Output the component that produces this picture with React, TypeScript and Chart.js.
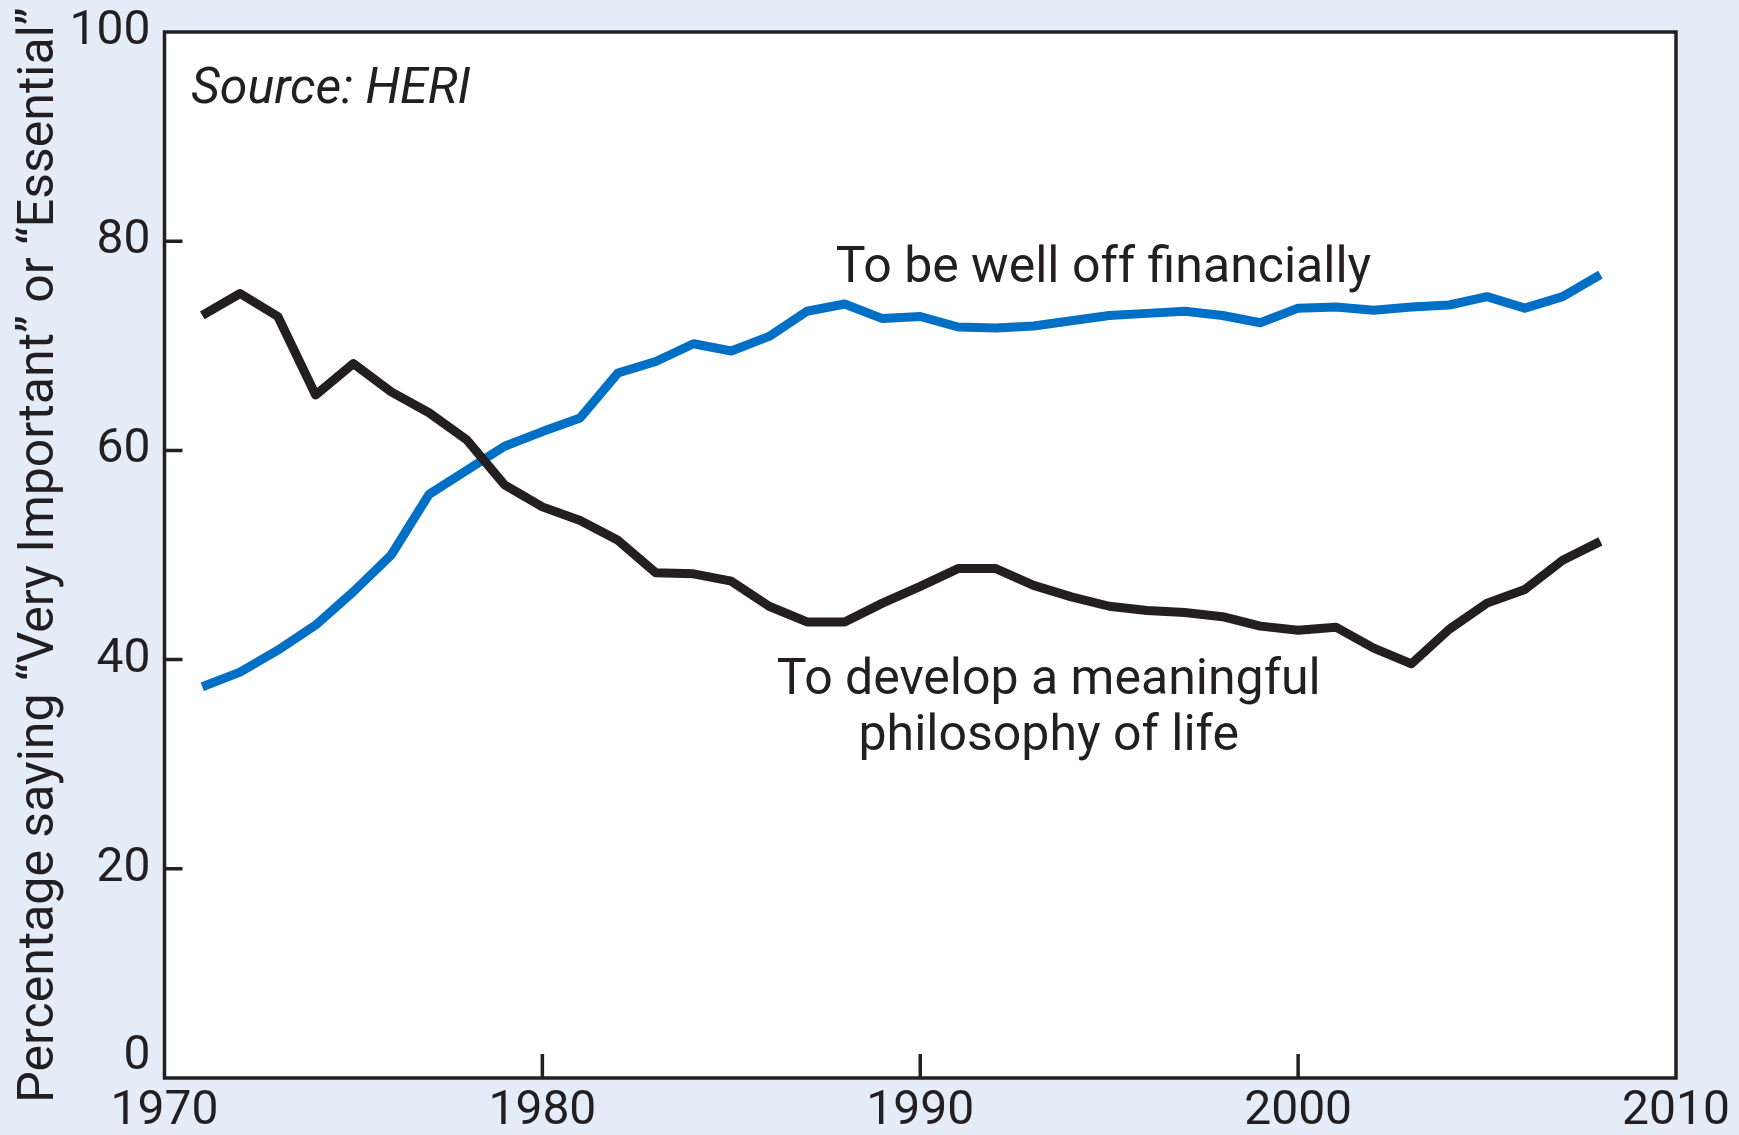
import React, { useEffect, useRef } from 'react';
import { Chart, registerables } from 'chart.js';

Chart.register(...registerables);

// ---- Data ----
const years = [
  1971, 1972, 1973, 1974, 1975, 1976, 1977, 1978, 1979, 1980,
  1981, 1982, 1983, 1984, 1985, 1986, 1987, 1988, 1989, 1990,
  1991, 1992, 1993, 1994, 1995, 1996, 1997, 1998, 1999, 2000,
  2001, 2002, 2003, 2004, 2005, 2006, 2007, 2008,
];

const wellOffFinancially = [
  37.4, 38.8, 40.9, 43.3, 46.5, 50.0, 55.8, 58.1, 60.4, 61.8,
  63.1, 67.4, 68.5, 70.2, 69.5, 70.9, 73.3, 74.0, 72.6, 72.8,
  71.8, 71.7, 71.9, 72.4, 72.9, 73.1, 73.3, 72.9, 72.2, 73.6,
  73.7, 73.4, 73.7, 73.9, 74.7, 73.6, 74.7, 76.8,
];

const meaningfulPhilosophy = [
  72.9, 75.0, 72.8, 65.3, 68.3, 65.6, 63.6, 61.0, 56.7, 54.6,
  53.3, 51.4, 48.3, 48.2, 47.5, 45.1, 43.6, 43.6, 45.4, 47.0,
  48.7, 48.7, 47.1, 46.0, 45.1, 44.7, 44.5, 44.1, 43.2, 42.8,
  43.1, 41.1, 39.6, 42.9, 45.4, 46.7, 49.5, 51.3,
];

const xTickValues = [1970, 1980, 1990, 2000, 2010];
const yTickValues = [0, 20, 40, 60, 80, 100];

const yAxisTitle = 'Percentage saying \u201CVery Important\u201D or \u201CEssential\u201D';

// Text labels placed in data coordinates
const labelWellOff = { text: ['To be well off financially'], x: 1994.85, y: 76.1, align: 'center', italic: false };
const labelPhilosophy = { text: ['To develop a meaningful', 'philosophy of life'], x: 1993.4, y: 36.7, align: 'center', italic: false };
const labelSource = { text: ['Source: HERI'], x: 1970.7, y: 93.2, align: 'left', italic: true };
const textLabels = [labelWellOff, labelPhilosophy, labelSource];

// ---- Styles ----
const FONT = 'Roboto';
const INK = '#231F20';
const BLUE = '#0070C6';
const PAGE_BG = '#E4ECF7';
const W = 1739;
const H = 1135;

const decorPlugin = {
  id: 'decor',
  beforeDraw(chart: any) {
    const { ctx, chartArea } = chart;
    ctx.save();
    ctx.fillStyle = PAGE_BG;
    ctx.fillRect(0, 0, chart.width, chart.height);
    ctx.fillStyle = '#FFFFFF';
    ctx.fillRect(chartArea.left, chartArea.top, chartArea.right - chartArea.left, chartArea.bottom - chartArea.top);
    ctx.restore();
  },
  afterDatasetsDraw(chart: any) {
    const { ctx, chartArea } = chart;
    const xs = chart.scales.x;
    const ys = chart.scales.y;
    ctx.save();
    ctx.strokeStyle = INK;
    ctx.lineWidth = 3.5;
    ctx.strokeRect(chartArea.left, chartArea.top, chartArea.right - chartArea.left, chartArea.bottom - chartArea.top);
    ctx.beginPath();
    yTickValues.forEach((v) => {
      if (v === ys.min || v === ys.max) return;
      const py = ys.getPixelForValue(v);
      ctx.moveTo(chartArea.left, py);
      ctx.lineTo(chartArea.left + 18, py);
    });
    xTickValues.forEach((v) => {
      if (v === xs.min || v === xs.max) return;
      const px = xs.getPixelForValue(v);
      ctx.moveTo(px, chartArea.bottom);
      ctx.lineTo(px, chartArea.bottom - 24);
    });
    ctx.stroke();
    ctx.restore();
  },
  afterDraw(chart: any) {
    const { ctx } = chart;
    const xs = chart.scales.x;
    const ys = chart.scales.y;
    ctx.save();
    ctx.fillStyle = INK;
    ctx.textBaseline = 'alphabetic';
    textLabels.forEach((lab) => {
      ctx.font = (lab.italic ? 'italic ' : '') + '50px ' + FONT;
      ctx.textAlign = lab.align as CanvasTextAlign;
      const px = xs.getPixelForValue(lab.x);
      const py = ys.getPixelForValue(lab.y);
      lab.text.forEach((line, i) => {
        ctx.fillText(line, px, py + i * 56);
      });
    });
    ctx.restore();
  },
};

export default function App() {
  const canvasRef = useRef<HTMLCanvasElement | null>(null);

  useEffect(() => {
    document.body.style.margin = '0';
    document.body.style.overflow = 'hidden';
    const canvas = canvasRef.current;
    if (!canvas) return;
    const chart = new Chart(canvas, {
      type: 'line',
      data: {
        datasets: [
          {
            label: 'To develop a meaningful philosophy of life',
            data: years.map((yr, i) => ({ x: yr, y: meaningfulPhilosophy[i] })),
            borderColor: INK,
            borderWidth: 9,
            pointRadius: 0,
            tension: 0,
            borderJoinStyle: 'round',
            fill: false,
          },
          {
            label: 'To be well off financially',
            data: years.map((yr, i) => ({ x: yr, y: wellOffFinancially[i] })),
            borderColor: BLUE,
            borderWidth: 9,
            pointRadius: 0,
            tension: 0,
            borderJoinStyle: 'round',
            fill: false,
          },
        ],
      },
      options: {
        animation: false,
        responsive: false,
        maintainAspectRatio: false,
        devicePixelRatio: 1,
        layout: { padding: { top: 32, right: 63, bottom: 0, left: 0 } },
        plugins: {
          legend: { display: false },
          tooltip: { enabled: false },
        },
        scales: {
          x: {
            type: 'linear',
            min: 1970,
            max: 2010,
            afterBuildTicks: (scale: any) => {
              scale.ticks = xTickValues.map((v) => ({ value: v }));
            },
            afterFit: (scale: any) => {
              scale.height = 57;
              scale.paddingLeft = 0;
              scale.paddingRight = 0;
            },
            grid: { display: false, drawTicks: false },
            border: { display: false },
            ticks: {
              color: INK,
              padding: 5,
              maxRotation: 0,
              autoSkip: false,
              font: { family: FONT, size: 48 },
              callback: (v: any) => String(v),
            },
          },
          y: {
            type: 'linear',
            min: 0,
            max: 100,
            afterBuildTicks: (scale: any) => {
              scale.ticks = yTickValues.map((v) => ({ value: v }));
            },
            afterFit: (scale: any) => {
              scale.width = 164.5;
              scale.paddingTop = 0;
              scale.paddingBottom = 0;
            },
            grid: { display: false, drawTicks: false },
            border: { display: false },
            ticks: {
              color: INK,
              padding: 14,
              autoSkip: false,
              font: (c: any) => ({
                family: FONT,
                size: 48,
                lineHeight: c.tick && c.tick.value === 0 ? '42px' : 1.2,
              }),
              // the "0" label sits raised above the corner, clear of "1970"
              callback: (v: any) => (v === 0 ? ['0', ''] : String(v)),
            },
            title: {
              display: true,
              text: yAxisTitle,
              color: INK,
              font: { family: FONT, size: 50 },
              padding: { top: 10, bottom: 0 },
            },
          },
        },
      },
      plugins: [decorPlugin],
    });
    return () => chart.destroy();
  }, []);

  return (
    <div style={{ width: W, height: H }}>
      <canvas ref={canvasRef} width={W} height={H} style={{ display: 'block', width: W, height: H }} />
    </div>
  );
}
